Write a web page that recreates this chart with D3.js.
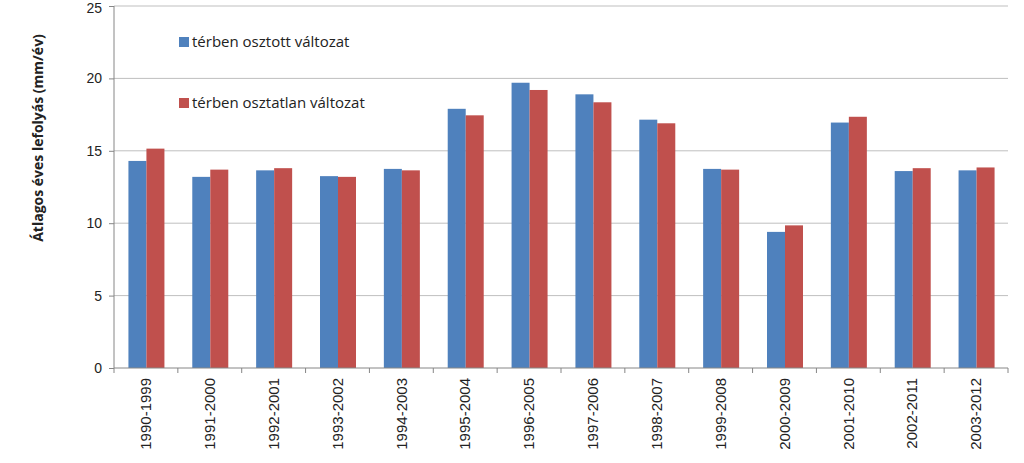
<!DOCTYPE html>
<html>
<head>
<meta charset="utf-8">
<script src="https://cdn.jsdelivr.net/npm/d3@7"></script>
<style>
    body { margin: 0; background: #fff; }
    svg { display: block; font-family: "Open Sans", "Liberation Sans", sans-serif; }
</style>
</head>
<body>
<div id="chart"></div>
<script>
// periods on x axis
const periods = ["1990-1999","1991-2000","1992-2001","1993-2002","1994-2003","1995-2004","1996-2005",
    "1997-2006","1998-2007","1999-2008","2000-2009","2001-2010","2002-2011","2003-2012"];
// spatially distributed version
const osztott = [14.3, 13.2, 13.65, 13.25, 13.75, 17.9, 19.7, 18.9, 17.15, 13.75, 9.4, 16.95, 13.6, 13.65];
// lumped version
const osztatlan = [15.15, 13.7, 13.8, 13.2, 13.65, 17.45, 19.2, 18.35, 16.9, 13.7, 9.85, 17.35, 13.8, 13.85];
const seriesNames = ["térben osztott változat", "térben osztatlan változat"];
const yTicks = [0, 5, 10, 15, 20, 25];

const colors = ["#4F81BD", "#C0504D"];

const width = 1024, height = 463;
const margin = {top: 6, right: 16, bottom: 95, left: 114};
const innerW = width - margin.left - margin.right;
const innerH = height - margin.top - margin.bottom;

const svg = d3.select("#chart").append("svg")
    .attr("width", width)
    .attr("height", height);

const g = svg.append("g")
    .attr("transform", `translate(${margin.left},${margin.top})`);

// scales
const x = d3.scaleBand().domain(periods).range([0, innerW]);
const xSub = d3.scaleBand().domain([0, 1]).range([0, 36]);
const y = d3.scaleLinear().domain([0, 25]).range([innerH, 0]);

// gridlines
g.selectAll(".grid").data(yTicks.filter(d => d > 0))
    .enter().append("line")
    .attr("x1", 0).attr("x2", innerW)
    .attr("y1", d => y(d)).attr("y2", d => y(d))
    .attr("stroke", "#bfbfbf").attr("stroke-width", 1);

// bars
const data = periods.map((p, i) => ({p, vals: [osztott[i], osztatlan[i]]}));
const groups = g.selectAll(".grp").data(data).enter().append("g")
    .attr("transform", d => `translate(${x(d.p) + (x.bandwidth() - 36) / 2 + 0.5},0)`);

groups.selectAll("rect").data(d => d.vals).enter().append("rect")
    .attr("x", (d, i) => xSub(i))
    .attr("width", xSub.bandwidth())
    .attr("y", d => y(d))
    .attr("height", d => innerH - y(d))
    .attr("fill", (d, i) => colors[i]);

// y axis
const yAxis = g.append("g")
    .call(d3.axisLeft(y).tickValues(yTicks).tickSize(5).tickPadding(7));
yAxis.select(".domain").attr("stroke", "#868686").attr("d", `M0,0V${innerH}`);
yAxis.selectAll(".tick line").attr("stroke", "#868686");
yAxis.selectAll("text").attr("font-size", "14px").attr("fill", "#222")
    .attr("dy", d => d === 25 ? "0.45em" : "0.32em");

// x axis
const xAxis = g.append("g")
    .attr("transform", `translate(0,${innerH})`)
    .call(d3.axisBottom(x).tickSize(0));
xAxis.select(".domain").attr("stroke", "#868686").attr("d", `M0,0H${innerW}`);
xAxis.selectAll(".tick text")
    .attr("font-size", "15px").attr("fill", "#222")
    .attr("transform", "rotate(-90)")
    .attr("text-anchor", "end")
    .attr("x", -10).attr("y", 0).attr("dy", "0.35em");

// category boundary ticks
g.selectAll(".btick").data(periods.concat(["end"]))
    .enter().append("line")
    .attr("x1", (d, i) => i * x.step()).attr("x2", (d, i) => i * x.step())
    .attr("y1", innerH).attr("y2", innerH + 5)
    .attr("stroke", "#868686");

// y axis title
svg.append("text")
    .attr("transform", `translate(43,${margin.top + 132}) rotate(-90)`)
    .attr("text-anchor", "middle")
    .attr("font-size", "14px")
    .attr("font-weight", "bold")
    .attr("fill", "#222")
    .text("Átlagos éves lefolyás (mm/év)");

// legend
const legendY = [42, 103];
const legend = svg.selectAll(".legend").data(seriesNames).enter().append("g")
    .attr("transform", (d, i) => `translate(179,${legendY[i]})`);
legend.append("rect")
    .attr("x", 0).attr("y", -5).attr("width", 10).attr("height", 10)
    .attr("fill", (d, i) => colors[i]);
legend.append("text")
    .attr("x", 13).attr("y", 0).attr("dy", "0.35em")
    .attr("font-size", "15px").attr("fill", "#222")
    .text(d => d);
</script>
</body>
</html>
